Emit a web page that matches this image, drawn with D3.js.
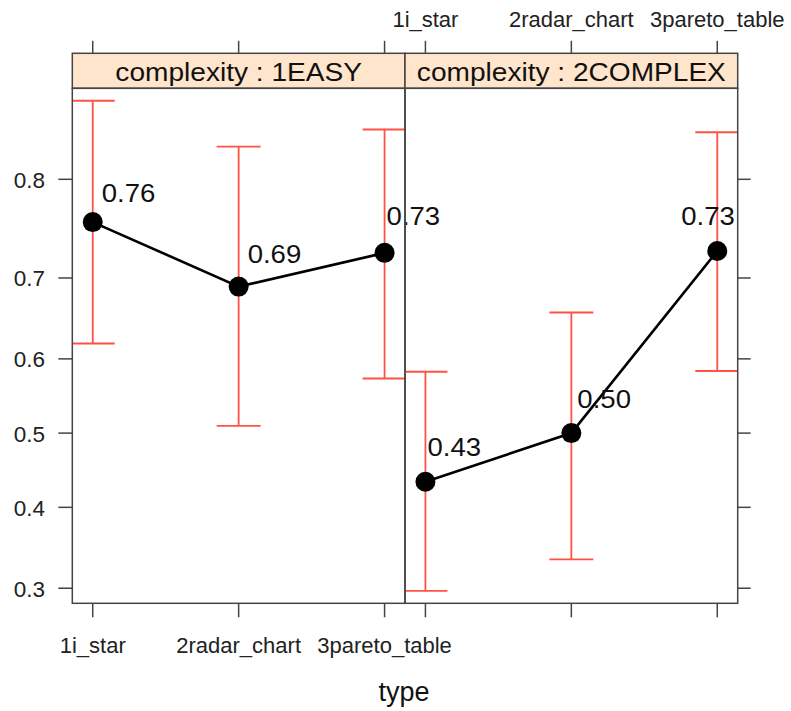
<!DOCTYPE html>
<html><head><meta charset="utf-8">
<script src="https://cdn.jsdelivr.net/npm/d3@7"></script>
<style>html,body{margin:0;padding:0;background:#fff;}svg{display:block;font-family:"Liberation Sans",Arial,sans-serif;}</style>
</head><body>
<svg id="chart" width="791" height="711"></svg>
<script>
// ---- data ----
const categories = ["1i_star", "2radar_chart", "3pareto_table"];
const panels = ["complexity : 1EASY", "complexity : 2COMPLEX"];
const meanEasy = [0.760, 0.690, 0.728];
const lowerEasy = [0.620, 0.510, 0.574];
const upperEasy = [0.860, 0.827, 0.840];
const meanComplex = [0.434, 0.500, 0.730];
const lowerComplex = [0.297, 0.334, 0.584];
const upperComplex = [0.583, 0.659, 0.838];
const yTicks = [0.3, 0.4, 0.5, 0.6, 0.7, 0.8];
const yLimits = [0.283, 0.868];
const xLimits = [0.86, 3.14];
// label nudges (pixels) per panel / point
const labelDx = [[9, 9, 2], [2, 6, -36]];
const labelDy = [[-20, -24, -28], [-26, -25, -26]];

const series = [
  {name: panels[0], mean: meanEasy, lo: lowerEasy, hi: upperEasy},
  {name: panels[1], mean: meanComplex, lo: lowerComplex, hi: upperComplex}
];

const svg = d3.select("#chart");
const logit = p => Math.log(p / (1 - p));
const axisCol = "#444", errCol = "#ff5346";

const panelTop = 88.3, panelBottom = 603.3, stripTop = 53.3;
const panelLefts = [72.3, 405];
const panelW = 332.7;

const y = d3.scaleLinear().domain(yLimits.map(logit)).range([panelBottom, panelTop]);
const fmt = d3.format(".2f");

series.forEach((s, pi) => {
  const x0 = panelLefts[pi];
  const x = d3.scaleLinear().domain(xLimits).range([x0, x0 + panelW]);
  const xi = i => x(i + 1);
  const g = svg.append("g");
  const clipId = "clip" + pi;
  svg.append("clipPath").attr("id", clipId).append("rect")
    .attr("x", x0).attr("y", panelTop).attr("width", panelW).attr("height", panelBottom - panelTop);

  // strip
  g.append("rect").attr("x", x0).attr("y", stripTop).attr("width", panelW).attr("height", panelTop - stripTop)
    .attr("fill", "#ffe5cc").attr("stroke", axisCol).attr("stroke-width", 1.5);
  const st = g.append("text").attr("x", x0 + panelW / 2).attr("y", 81).attr("text-anchor", "middle")
    .attr("font-size", 26).attr("fill", "#111").text(s.name);
  const w = st.node().getComputedTextLength();
  st.attr("textLength", w * 1.08).attr("lengthAdjust", "spacingAndGlyphs");

  // error bars
  const eg = g.append("g").attr("clip-path", `url(#${clipId})`)
    .attr("stroke", errCol).attr("stroke-width", 1.8).attr("fill", "none");
  categories.forEach((c, i) => {
    const cx = xi(i);
    eg.append("line").attr("x1", cx).attr("x2", cx).attr("y1", y(logit(s.lo[i]))).attr("y2", y(logit(s.hi[i])));
    [s.lo[i], s.hi[i]].forEach(v => {
      eg.append("line").attr("x1", cx - 22).attr("x2", cx + 22).attr("y1", y(logit(v))).attr("y2", y(logit(v)));
    });
  });

  // line + points
  const line = d3.line().x((d, i) => xi(i)).y(d => y(logit(d)));
  g.append("path").datum(s.mean).attr("d", line).attr("fill", "none").attr("stroke", "#000").attr("stroke-width", 2.6);
  g.selectAll("circle.pt").data(s.mean).join("circle").attr("class", "pt")
    .attr("cx", (d, i) => xi(i)).attr("cy", d => y(logit(d))).attr("r", 10).attr("fill", "#000");
  g.selectAll("text.val").data(s.mean).join("text").attr("class", "val")
    .attr("x", (d, i) => xi(i) + labelDx[pi][i]).attr("y", (d, i) => y(logit(d)) + labelDy[pi][i])
    .attr("font-size", 26).attr("fill", "#111").text(d => fmt(d))
    .each(function() {
      const t = d3.select(this);
      t.attr("textLength", this.getComputedTextLength() * 1.06).attr("lengthAdjust", "spacingAndGlyphs");
    });

  // panel frame
  g.append("rect").attr("x", x0).attr("y", panelTop).attr("width", panelW).attr("height", panelBottom - panelTop)
    .attr("fill", "none").attr("stroke", axisCol).attr("stroke-width", 1.5);

  // x ticks top & bottom
  categories.forEach((c, i) => {
    const cx = xi(i);
    g.append("line").attr("x1", cx).attr("x2", cx).attr("y1", stripTop).attr("y2", stripTop - 12.5)
      .attr("stroke", axisCol).attr("stroke-width", 1.5);
    g.append("line").attr("x1", cx).attr("x2", cx).attr("y1", panelBottom).attr("y2", panelBottom + 14)
      .attr("stroke", axisCol).attr("stroke-width", 1.5);
    if (pi === 0) {
      g.append("text").attr("x", cx).attr("y", 653).attr("text-anchor", "middle")
        .attr("font-size", 22).attr("fill", "#222").text(c);
    } else {
      g.append("text").attr("x", cx).attr("y", 27).attr("text-anchor", "middle")
        .attr("font-size", 22).attr("fill", "#222").text(c);
    }
  });

  // y ticks
  yTicks.forEach(t => {
    const ty = y(logit(t));
    if (pi === 0) {
      g.append("line").attr("x1", x0).attr("x2", x0 - 14).attr("y1", ty).attr("y2", ty)
        .attr("stroke", axisCol).attr("stroke-width", 1.5);
      g.append("text").attr("x", 45).attr("y", ty + 1).attr("text-anchor", "end")
        .attr("dominant-baseline", "central").attr("font-size", 22.5).attr("fill", "#222").text(t.toFixed(1));
    } else {
      g.append("line").attr("x1", x0 + panelW).attr("x2", x0 + panelW + 13).attr("y1", ty).attr("y2", ty)
        .attr("stroke", axisCol).attr("stroke-width", 1.5);
    }
  });
});

svg.append("text").attr("x", 404).attr("y", 701).attr("text-anchor", "middle")
  .attr("font-size", 27).attr("fill", "#111").text("type");
</script>
</body></html>
